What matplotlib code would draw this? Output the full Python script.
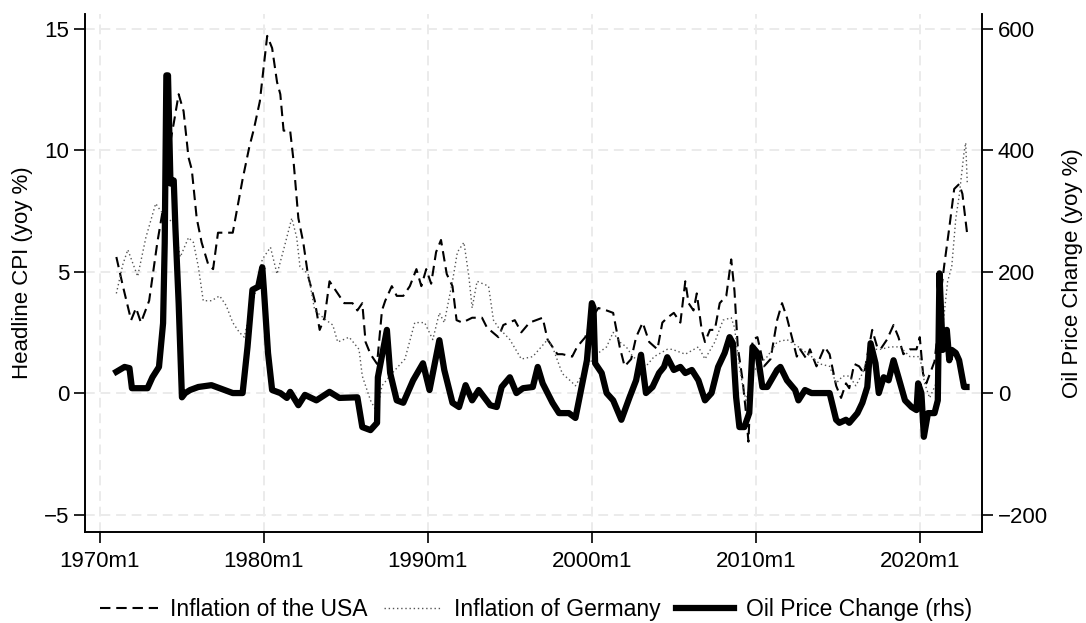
import numpy as np
import matplotlib.pyplot as plt

plt.rcParams['font.family'] = ['Liberation Sans', 'DejaVu Sans']

# headline CPI inflation, USA (yoy %), dates as decimal years
usa_t = [1971.0, 1971.4, 1971.9, 1972.2, 1972.5, 1973.0, 1973.5, 1973.9, 1974.2, 1974.5,
         1974.8, 1975.1, 1975.4, 1975.6, 1975.9, 1976.2, 1976.6, 1976.9, 1977.2, 1977.6,
         1978.1, 1978.7, 1979.1, 1979.4, 1979.75, 1980.2, 1980.5, 1980.8, 1981.0, 1981.2,
         1981.6, 1981.8, 1982.1, 1982.4, 1982.7, 1983.1, 1983.4, 1983.7, 1984.0, 1984.4,
         1984.9, 1985.4, 1985.7, 1986.0, 1986.2, 1986.5, 1986.9, 1987.2, 1987.4, 1987.8,
         1988.1, 1988.5, 1988.9, 1989.3, 1989.6, 1989.9, 1990.2, 1990.5, 1990.8, 1991.15,
         1991.5, 1991.75, 1992.1, 1992.7, 1993.3, 1993.6, 1994.3, 1994.6, 1995.3, 1995.7,
         1996.2, 1996.6, 1997.0, 1997.3, 1997.9, 1998.2, 1998.8, 1999.1, 1999.6, 2000.0,
         2000.4, 2000.9, 2001.3, 2001.5, 2001.7, 2002.0, 2002.4, 2002.7, 2003.1, 2003.5,
         2004.0, 2004.3, 2004.6, 2005.0, 2005.4, 2005.7, 2005.9, 2006.2, 2006.4, 2006.7,
         2006.9, 2007.2, 2007.5, 2007.8, 2008.2, 2008.5, 2008.7, 2008.9, 2009.2, 2009.4,
         2009.55, 2009.8, 2010.1, 2010.5, 2010.9, 2011.3, 2011.6, 2011.9, 2012.2, 2012.5,
         2012.7, 2013.1, 2013.3, 2013.7, 2014.2, 2014.5, 2014.9, 2015.2, 2015.5, 2015.7,
         2016.0, 2016.3, 2016.6, 2017.1, 2017.4, 2017.6, 2018.0, 2018.4, 2018.7, 2019.0,
         2019.4, 2019.8, 2020.0, 2020.2, 2020.4, 2020.9, 2021.1, 2021.3, 2021.5, 2021.8,
         2022.1, 2022.4, 2022.6, 2022.9]
usa_cpi = [5.6, 4.4, 3.0, 3.5, 2.9, 3.8, 6.2, 7.8, 10.0, 11.1,
           12.3, 11.6, 9.7, 9.2, 7.2, 6.2, 5.3, 5.1, 6.6, 6.6,
           6.6, 8.8, 10.1, 10.9, 12.0, 14.7, 14.2, 12.8, 12.3, 10.8,
           10.8, 9.6, 7.2, 6.2, 4.8, 3.8, 2.6, 3.1, 4.6, 4.2,
           3.7, 3.7, 3.4, 3.7, 2.1, 1.6, 1.2, 3.4, 3.8, 4.4,
           4.0, 4.0, 4.4, 5.1, 4.4, 5.1, 4.5, 5.8, 6.3, 4.9,
           4.4, 3.0, 2.9, 3.1, 3.1, 2.7, 2.3, 2.8, 3.0, 2.5,
           2.9, 3.0, 3.1, 2.2, 1.6, 1.6, 1.5, 1.9, 2.3, 3.1,
           3.5, 3.4, 3.3, 2.6, 1.9, 1.1, 1.4, 2.3, 2.9, 2.1,
           1.8, 2.9, 3.1, 3.3, 2.9, 4.6, 3.7, 3.4, 4.1, 2.6,
           2.1, 2.6, 2.6, 3.7, 4.0, 5.5, 4.2, 1.9, 0.5, -0.8,
           -2.0, 2.2, 2.3, 1.1, 1.4, 3.0, 3.7, 3.1, 2.3, 1.5,
           1.8, 1.4, 1.8, 1.1, 1.9, 1.6, 0.3, -0.2, 0.4, 0.2,
           1.2, 1.1, 0.8, 2.6, 1.9, 1.8, 2.2, 2.8, 2.3, 1.6,
           1.8, 1.8, 2.3, 0.8, 0.4, 1.3, 2.5, 4.2, 5.3, 6.8,
           8.4, 8.6, 8.2, 6.5]

# headline CPI inflation, Germany (yoy %)
ger_t = [1971.0, 1971.4, 1971.7, 1972.3, 1972.8, 1973.4, 1973.7, 1974.1, 1974.5, 1974.9,
         1975.4, 1975.7, 1976.0, 1976.3, 1976.8, 1977.3, 1977.7, 1978.1, 1978.5, 1978.8,
         1979.0, 1979.5, 1979.9, 1980.4, 1980.8, 1981.2, 1981.7, 1982.0, 1982.2, 1982.7,
         1983.1, 1983.8, 1984.2, 1984.5, 1985.2, 1985.8, 1986.0, 1986.5, 1986.9, 1987.2,
         1987.8, 1988.6, 1989.2, 1989.8, 1990.3, 1990.7, 1991.0, 1991.5, 1991.8, 1992.2,
         1992.5, 1992.7, 1993.0, 1993.7, 1994.0, 1994.3, 1995.0, 1995.7, 1996.4, 1997.3,
         1997.6, 1998.2, 1998.7, 1999.0, 1999.7, 2000.3, 2000.9, 2001.3, 2001.7, 2002.1,
         2002.5, 2003.3, 2003.8, 2004.6, 2004.9, 2005.7, 2006.5, 2006.9, 2007.5, 2008.0,
         2008.5, 2008.7, 2009.0, 2009.2, 2009.4, 2009.8, 2010.1, 2010.7, 2011.3, 2011.9,
         2012.6, 2013.4, 2013.9, 2014.5, 2014.9, 2015.3, 2015.7, 2016.1, 2016.5, 2017.0,
         2017.6, 2018.2, 2018.8, 2019.4, 2020.0, 2020.3, 2020.6, 2021.0, 2021.4, 2021.7,
         2021.95, 2022.2, 2022.4, 2022.7, 2022.8, 2022.9]
ger_cpi = [4.1, 5.3, 5.9, 4.8, 6.4, 7.8, 7.5, 7.2, 7.0, 5.6,
           6.4, 6.2, 5.2, 3.8, 3.8, 4.0, 3.6, 2.9, 2.5, 2.3,
           2.9, 4.2, 5.5, 6.0, 4.9, 5.9, 7.2, 6.4, 5.2, 4.9,
           3.4, 3.0, 2.8, 2.1, 2.3, 1.8, 0.7, -0.3, -0.8, 0.3,
           0.8, 1.4, 2.9, 2.9, 2.2, 3.3, 2.9, 4.6, 5.8, 6.2,
           4.8, 3.5, 4.6, 4.4, 3.0, 2.7, 2.2, 1.4, 1.5, 2.2,
           1.9, 0.8, 0.5, 0.3, 1.1, 1.6, 1.9, 2.5, 2.1, 1.9,
           1.5, 1.1, 1.5, 1.8, 1.8, 1.6, 1.9, 1.4, 2.1, 3.0,
           3.1, 2.7, 1.1, 0.3, -0.3, 0.8, 1.1, 1.5, 2.1, 2.2,
           1.9, 1.5, 1.2, 1.1, 0.4, 0.7, 0.7, 0.3, 0.8, 1.8,
           1.8, 1.9, 1.9, 1.5, 1.5, 0.4, -0.2, 0.4, 2.7, 4.6,
           5.2, 7.2, 8.1, 9.9, 10.3, 8.6]

# oil price change (yoy %), right axis
oil_t = [1971.0, 1971.5, 1971.8, 1971.95, 1972.9, 1973.2, 1973.6, 1973.85, 1973.95, 1974.05,
         1974.15, 1974.3, 1974.5, 1974.6, 1974.8, 1975.0, 1975.2, 1975.5, 1976.0, 1976.8,
         1977.3, 1978.1, 1978.7, 1979.0, 1979.3, 1979.65, 1979.9, 1980.0, 1980.25, 1980.5,
         1981.0, 1981.4, 1981.6, 1982.1, 1982.5, 1983.2, 1984.0, 1984.6, 1985.7, 1986.0,
         1986.5, 1986.9, 1986.95, 1987.5, 1987.7, 1988.1, 1988.5, 1989.1, 1989.7, 1990.1,
         1990.7, 1991.0, 1991.5, 1991.9, 1992.3, 1992.7, 1993.1, 1993.8, 1994.2, 1994.5,
         1995.0, 1995.4, 1995.8, 1996.4, 1996.7, 1997.0, 1997.3, 1997.6, 1998.0, 1998.6,
         1999.0, 1999.3, 1999.7, 2000.0, 2000.1, 2000.2, 2000.6, 2000.9, 2001.3, 2001.8,
         2002.3, 2002.7, 2003.0, 2003.3, 2003.7, 2004.1, 2004.4, 2004.6, 2005.0, 2005.4,
         2005.7, 2006.1, 2006.5, 2006.9, 2007.3, 2007.7, 2008.1, 2008.4, 2008.6, 2008.8,
         2009.0, 2009.3, 2009.6, 2009.8, 2010.1, 2010.4, 2010.7, 2011.3, 2011.5, 2011.9,
         2012.4, 2012.6, 2013.0, 2013.4, 2014.1, 2014.5, 2014.9, 2015.1, 2015.5, 2015.7,
         2016.2, 2016.5, 2016.8, 2017.0, 2017.3, 2017.5, 2017.8, 2018.1, 2018.4, 2018.7,
         2019.1, 2019.5, 2019.8, 2019.9, 2020.1, 2020.25, 2020.5, 2020.9, 2021.1, 2021.2,
         2021.4, 2021.65, 2021.8, 2021.95, 2022.2, 2022.4, 2022.7, 2022.85]
oil_chg = [35, 43, 41, 8, 8, 26, 43, 115, 247, 523,
           523, 345, 350, 273, 148, -7, 0, 5, 10, 13,
           8, 0, 0, 76, 170, 175, 207, 170, 66, 5,
           0, -8, 2, -20, -3, -12, 2, -8, -7, -56,
           -61, -49, 26, 104, 33, -12, -16, 21, 49, 5,
           87, 38, -16, -23, 13, -12, 5, -20, -23, 10,
           26, 0, 8, 10, 43, 16, 0, -16, -33, -33,
           -41, 0, 54, 148, 141, 49, 33, 0, -12, -44,
           -7, 21, 63, 0, 10, 33, 43, 59, 38, 43,
           33, 38, 21, -12, 0, 43, 66, 92, 82, -7,
           -56, -56, -33, 76, 66, 10, 10, 38, 43, 21,
           5, -12, 5, 0, 0, 0, -44, -49, -44, -49,
           -33, -16, 10, 82, 49, 0, 26, 21, 54, 26,
           -12, -23, -28, 16, 0, -72, -33, -33, -12, 197,
           71, 104, 54, 71, 66, 54, 10, 10]

xtick_years = [1970, 1980, 1990, 2000, 2010, 2020]
xtick_labels = ['1970m1', '1980m1', '1990m1', '2000m1', '2010m1', '2020m1']
left_ticks = [-5, 0, 5, 10, 15]
right_ticks = [-200, 0, 200, 400, 600]

fig = plt.figure(figsize=(10.86, 6.23), dpi=100)
ax = fig.add_axes([0.0783, 0.146, 0.8257, 0.8315])
ax2 = ax.twinx()

grid_kw = dict(color='#ebebeb', lw=1.4, ls=(0, (5, 3)), zorder=0)
for yv in left_ticks:
    ax.axhline(yv, **grid_kw)
for xv in xtick_years:
    ax.axvline(xv, **grid_kw)

l_usa, = ax.plot(usa_t, usa_cpi, color='black', lw=1.5, ls=(0, (5, 2.8)),
                 label='Inflation of the USA', zorder=3)
l_ger, = ax.plot(ger_t, ger_cpi, color='#555555', lw=1.0, ls=(0, (1, 2)),
                 label='Inflation of Germany', zorder=3)
l_oil, = ax2.plot(oil_t, oil_chg, color='black', lw=4.5, solid_joinstyle='round',
                  label='Oil Price Change (rhs)', zorder=4)

ax.set_xlim(1969.09, 2023.78)
ax.set_ylim(-5.72, 15.6)
ax2.set_ylim(-228.8, 624)

ax.set_xticks(xtick_years)
ax.set_xticklabels(xtick_labels)
ax.set_yticks(left_ticks)
ax2.set_yticks(right_ticks)

for a in (ax, ax2):
    a.spines['top'].set_visible(False)
    a.tick_params(labelsize=16, length=8, width=1.2, direction='out', color='black')
    for s in a.spines.values():
        s.set_linewidth(1.2)
ax.tick_params(axis='x', pad=6)

ax.set_ylabel('Headline CPI (yoy %)', fontsize=16, labelpad=8)
ax2.set_ylabel('Oil Price Change (yoy %)', fontsize=16, labelpad=10)

fig.legend(handles=[l_usa, l_ger, l_oil], loc='lower center', ncol=3,
           bbox_to_anchor=(0.494, -0.03), frameon=False, fontsize=16.5,
           handlelength=2.5, columnspacing=0.7, handletextpad=0.55)

fig.savefig('out.png', dpi=100)
